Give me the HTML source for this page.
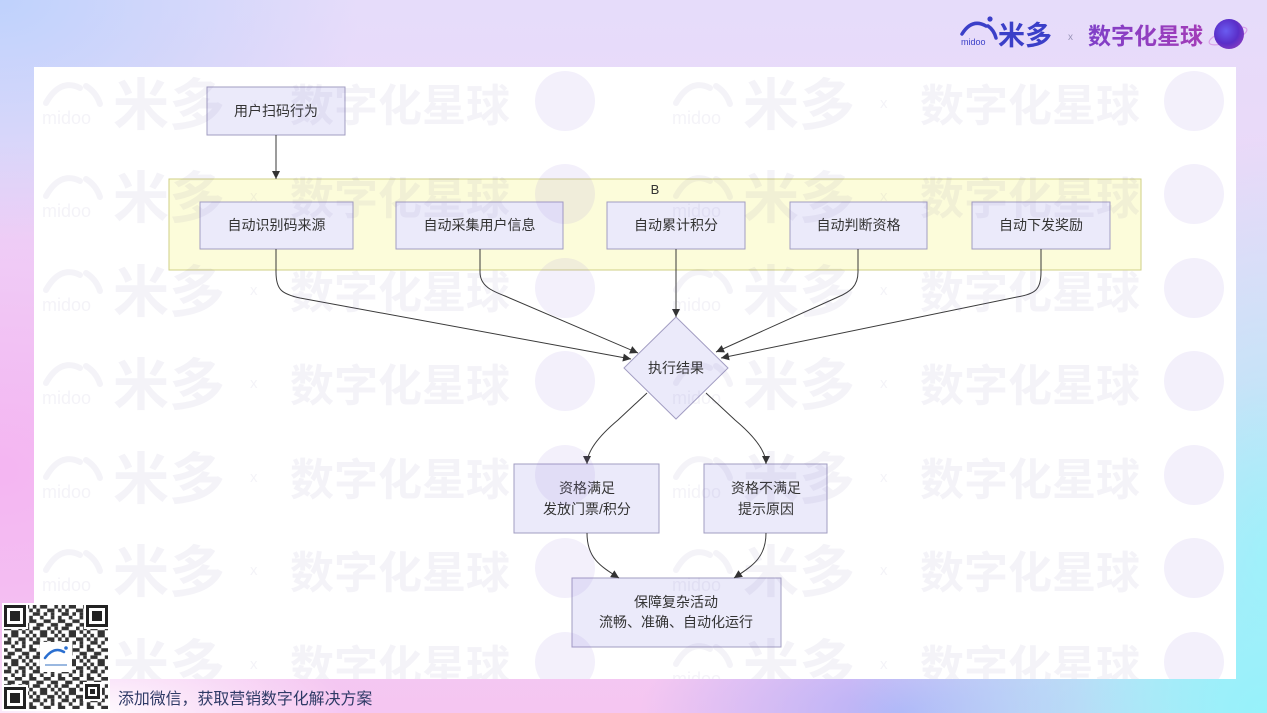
<!DOCTYPE html>
<html><head><meta charset="utf-8">
<style>
html,body{margin:0;padding:0;}
body{width:1267px;height:713px;overflow:hidden;position:relative;font-family:"Liberation Sans","Noto Sans CJK SC",sans-serif;}
#bg{position:absolute;left:0;top:0;width:1267px;height:713px;
background:
 radial-gradient(ellipse 420px 330px at 1267px 713px, rgba(150,242,250,1) 0%, rgba(150,242,250,0) 100%),
 radial-gradient(ellipse 200px 420px at 1267px 560px, rgba(165,240,250,0.95) 0%, rgba(165,240,250,0) 100%),
 radial-gradient(ellipse 360px 240px at 0 0, #bfd2fc 0%, rgba(191,210,252,0) 100%),
 radial-gradient(ellipse 260px 120px at 900px 713px, rgba(176,176,248,0.95) 0%, rgba(176,176,248,0) 100%),
 radial-gradient(ellipse 260px 90px at 90px 713px, rgba(255,255,255,0.95) 0%, rgba(255,255,255,0) 100%),
 radial-gradient(ellipse 420px 340px at 0 470px, rgba(244,180,242,0.95) 0%, rgba(244,180,242,0) 100%),
 linear-gradient(to bottom, #e6dcfa 0%, #eed6f7 45%, #f5c6f1 100%);}
svg{position:absolute;left:0;top:0;}
</style></head>
<body>
<div id="bg"></div>
<svg width="1267" height="713" viewBox="0 0 1267 713" xmlns="http://www.w3.org/2000/svg">
<defs>
<marker id="ah" viewBox="0 0 10 10" refX="10" refY="5" markerUnits="userSpaceOnUse" markerWidth="9" markerHeight="8" orient="auto">
<path d="M0,0 L10,5 L0,10 z" fill="#333"/>
</marker>
<clipPath id="pc"><rect x="34" y="67" width="1202" height="612"/></clipPath>
<pattern id="qr" x="4" y="605" width="28.8" height="28.8" patternUnits="userSpaceOnUse">
<g fill="#333">
<rect x="0" y="0" width="3.6" height="3.6"/><rect x="7.2" y="0" width="7.2" height="3.6"/><rect x="21.6" y="0" width="3.6" height="3.6"/>
<rect x="3.6" y="3.6" width="3.6" height="3.6"/><rect x="14.4" y="3.6" width="7.2" height="3.6"/><rect x="25.2" y="3.6" width="3.6" height="3.6"/>
<rect x="0" y="7.2" width="7.2" height="3.6"/><rect x="10.8" y="7.2" width="3.6" height="3.6"/><rect x="18" y="7.2" width="3.6" height="3.6"/>
<rect x="7.2" y="10.8" width="3.6" height="3.6"/><rect x="18" y="10.8" width="3.6" height="3.6"/><rect x="25.2" y="10.8" width="3.6" height="3.6"/>
<rect x="0" y="14.4" width="3.6" height="3.6"/><rect x="10.8" y="14.4" width="7.2" height="3.6"/><rect x="25.2" y="14.4" width="3.6" height="3.6"/>
<rect x="3.6" y="18" width="7.2" height="3.6"/><rect x="18" y="18" width="7.2" height="3.6"/>
<rect x="0" y="21.6" width="7.2" height="3.6"/><rect x="14.4" y="21.6" width="3.6" height="3.6"/><rect x="21.6" y="21.6" width="3.6" height="3.6"/>
<rect x="7.2" y="25.2" width="7.2" height="3.6"/><rect x="18" y="25.2" width="3.6" height="3.6"/><rect x="25.2" y="25.2" width="3.6" height="3.6"/>
</g>
</pattern>
<radialGradient id="planet" cx="40%" cy="40%" r="70%">
<stop offset="0" stop-color="#6a5cf0"/><stop offset="0.6" stop-color="#5a2ec8"/><stop offset="1" stop-color="#8a3cc0"/>
</radialGradient>
<linearGradient id="ptxt" x1="0" y1="0" x2="1" y2="0">
<stop offset="0" stop-color="#7f3fc8"/><stop offset="1" stop-color="#a23cb8"/>
</linearGradient>
</defs>

<!-- white panel -->
<rect x="34" y="67" width="1202" height="612" fill="#ffffff"/>

<!-- diagram -->
<g font-family="Liberation Sans, Noto Sans CJK SC, sans-serif" font-size="14" fill="#333" text-anchor="middle">
<rect x="169" y="179" width="972" height="91" fill="#fcfcda" stroke="#cfcf86" stroke-width="1"/>
<text x="655" y="194" font-size="13">B</text>

<rect x="207" y="87" width="138" height="48" fill="#ebeafa" stroke="#a29dc2" stroke-width="1"/>
<text x="276" y="116">用户扫码行为</text>

<rect x="200" y="202" width="153" height="47" fill="#ebeafa" stroke="#a29dc2"/>
<text x="276.5" y="230">自动识别码来源</text>
<rect x="396" y="202" width="167" height="47" fill="#ebeafa" stroke="#a29dc2"/>
<text x="479.5" y="230">自动采集用户信息</text>
<rect x="607" y="202" width="138" height="47" fill="#ebeafa" stroke="#a29dc2"/>
<text x="676" y="230">自动累计积分</text>
<rect x="790" y="202" width="137" height="47" fill="#ebeafa" stroke="#a29dc2"/>
<text x="858.5" y="230">自动判断资格</text>
<rect x="972" y="202" width="138" height="47" fill="#ebeafa" stroke="#a29dc2"/>
<text x="1041" y="230">自动下发奖励</text>

<polygon points="676,317 728,368 676,419 624,368" fill="#ebeafa" stroke="#a29dc2"/>
<text x="676" y="373">执行结果</text>

<rect x="514" y="464" width="145" height="69" fill="#ebeafa" stroke="#a29dc2"/>
<text x="587" y="493">资格满足</text>
<text x="587" y="514">发放门票/积分</text>
<rect x="704" y="464" width="123" height="69" fill="#ebeafa" stroke="#a29dc2"/>
<text x="766" y="493">资格不满足</text>
<text x="766" y="514">提示原因</text>

<rect x="572" y="578" width="209" height="69" fill="#ebeafa" stroke="#a29dc2"/>
<text x="676" y="607">保障复杂活动</text>
<text x="676" y="627">流畅、准确、自动化运行</text>
</g>

<!-- edges -->
<g fill="none" stroke="#3a3a3a" stroke-width="1" marker-end="url(#ah)">
<path d="M276,135 L276,179"/>
<path d="M276,249 L276,272 C276,290 282,294 300,298 L631,359"/>
<path d="M480,249 L480,272 C480,286 492,291 505,296 L638,353"/>
<path d="M676,249 L676,317"/>
<path d="M858,249 L858,272 C858,286 850,292 838,297 L716,352"/>
<path d="M1041,249 L1041,272 C1041,290 1035,294 1017,297 L721,358"/>
<path d="M647,393 L618,420 Q587,446 587,464"/>
<path d="M706,393 L735,420 Q766,446 766,464"/>
<path d="M587,533 C587,558 600,566 619,578"/>
<path d="M766,533 C766,558 752,566 734,578"/>
</g>

<!-- watermark -->
<g clip-path="url(#pc)" font-family="Liberation Sans, Noto Sans CJK SC, sans-serif" font-weight="bold">
<g fill="rgba(110,100,160,0.08)">
<text x="113" y="125" font-size="56">米多</text><text x="290" y="121" font-size="44">数字化星球</text><text x="250" y="108" font-size="15" font-weight="normal">x</text>
<text x="113" y="218" font-size="56">米多</text><text x="290" y="214" font-size="44">数字化星球</text><text x="250" y="201" font-size="15" font-weight="normal">x</text>
<text x="113" y="312" font-size="56">米多</text><text x="290" y="308" font-size="44">数字化星球</text><text x="250" y="295" font-size="15" font-weight="normal">x</text>
<text x="113" y="405" font-size="56">米多</text><text x="290" y="401" font-size="44">数字化星球</text><text x="250" y="388" font-size="15" font-weight="normal">x</text>
<text x="113" y="499" font-size="56">米多</text><text x="290" y="495" font-size="44">数字化星球</text><text x="250" y="482" font-size="15" font-weight="normal">x</text>
<text x="113" y="592" font-size="56">米多</text><text x="290" y="588" font-size="44">数字化星球</text><text x="250" y="575" font-size="15" font-weight="normal">x</text>
<text x="113" y="686" font-size="56">米多</text><text x="290" y="682" font-size="44">数字化星球</text><text x="250" y="669" font-size="15" font-weight="normal">x</text>
<text x="743" y="125" font-size="56">米多</text><text x="920" y="121" font-size="44">数字化星球</text><text x="880" y="108" font-size="15" font-weight="normal">x</text>
<text x="743" y="218" font-size="56">米多</text><text x="920" y="214" font-size="44">数字化星球</text><text x="880" y="201" font-size="15" font-weight="normal">x</text>
<text x="743" y="312" font-size="56">米多</text><text x="920" y="308" font-size="44">数字化星球</text><text x="880" y="295" font-size="15" font-weight="normal">x</text>
<text x="743" y="405" font-size="56">米多</text><text x="920" y="401" font-size="44">数字化星球</text><text x="880" y="388" font-size="15" font-weight="normal">x</text>
<text x="743" y="499" font-size="56">米多</text><text x="920" y="495" font-size="44">数字化星球</text><text x="880" y="482" font-size="15" font-weight="normal">x</text>
<text x="743" y="592" font-size="56">米多</text><text x="920" y="588" font-size="44">数字化星球</text><text x="880" y="575" font-size="15" font-weight="normal">x</text>
<text x="743" y="686" font-size="56">米多</text><text x="920" y="682" font-size="44">数字化星球</text><text x="880" y="669" font-size="15" font-weight="normal">x</text>
<g font-size="18" font-weight="normal">
<text x="42" y="124">midoo</text><text x="42" y="217">midoo</text><text x="42" y="311">midoo</text><text x="42" y="404">midoo</text><text x="42" y="498">midoo</text><text x="42" y="591">midoo</text><text x="42" y="685">midoo</text>
<text x="672" y="124">midoo</text><text x="672" y="217">midoo</text><text x="672" y="311">midoo</text><text x="672" y="404">midoo</text><text x="672" y="498">midoo</text><text x="672" y="591">midoo</text><text x="672" y="685">midoo</text>
</g>
</g>
<g fill="none" stroke="rgba(110,100,160,0.08)" stroke-width="6" stroke-linecap="round">
<path d="M46,103 Q60,78 80,88 M86,86 Q96,92 100,104"/>
<path d="M46,196 Q60,171 80,181 M86,179 Q96,185 100,197"/>
<path d="M46,290 Q60,265 80,275 M86,273 Q96,279 100,291"/>
<path d="M46,383 Q60,358 80,368 M86,366 Q96,372 100,384"/>
<path d="M46,477 Q60,452 80,462 M86,460 Q96,466 100,478"/>
<path d="M46,570 Q60,545 80,555 M86,553 Q96,559 100,571"/>
<path d="M46,664 Q60,639 80,649 M86,647 Q96,653 100,665"/>
<path d="M676,103 Q690,78 710,88 M716,86 Q726,92 730,104"/>
<path d="M676,196 Q690,171 710,181 M716,179 Q726,185 730,197"/>
<path d="M676,290 Q690,265 710,275 M716,273 Q726,279 730,291"/>
<path d="M676,383 Q690,358 710,368 M716,366 Q726,372 730,384"/>
<path d="M676,477 Q690,452 710,462 M716,460 Q726,466 730,478"/>
<path d="M676,570 Q690,545 710,555 M716,553 Q726,559 730,571"/>
<path d="M676,664 Q690,639 710,649 M716,647 Q726,653 730,665"/>
</g>
<g fill="rgba(150,115,220,0.11)">
<circle cx="565" cy="101" r="30"/><circle cx="565" cy="194" r="30"/><circle cx="565" cy="288" r="30"/><circle cx="565" cy="381" r="30"/><circle cx="565" cy="475" r="30"/><circle cx="565" cy="568" r="30"/><circle cx="565" cy="662" r="30"/>
<circle cx="1194" cy="101" r="30"/><circle cx="1194" cy="194" r="30"/><circle cx="1194" cy="288" r="30"/><circle cx="1194" cy="381" r="30"/><circle cx="1194" cy="475" r="30"/><circle cx="1194" cy="568" r="30"/><circle cx="1194" cy="662" r="30"/>
</g>
</g>

<!-- header logo -->
<g>
<path d="M962,34 Q972,18 986,26" fill="none" stroke="#3b3fc8" stroke-width="3.5" stroke-linecap="round"/>
<path d="M988,26 Q994,30 996,38" fill="none" stroke="#3b3fc8" stroke-width="3.5" stroke-linecap="round"/>
<circle cx="990" cy="19" r="2.6" fill="#3b3fc8"/>
<text x="961" y="45" font-family="Liberation Sans, sans-serif" font-size="9" fill="#3b3fc8">midoo</text>
<text x="998" y="45" font-family="Liberation Sans, Noto Sans CJK SC, sans-serif" font-size="27" font-weight="bold" fill="#3b3fc8">米多</text>
<text x="1068" y="40" font-family="Liberation Sans, sans-serif" font-size="10" fill="#9a94b8">x</text>
<text x="1088" y="44" font-family="Liberation Sans, Noto Sans CJK SC, sans-serif" font-size="23" font-weight="bold" fill="url(#ptxt)">数字化星球</text>
<ellipse cx="1228" cy="36" rx="20" ry="6" fill="none" stroke="#d9a0e8" stroke-width="1.2" transform="rotate(-20 1228 36)"/>
<circle cx="1229" cy="34" r="15" fill="url(#planet)"/>
</g>

<!-- QR code -->
<g>
<rect x="2" y="603" width="108" height="108" fill="#ffffff"/>
<rect x="4" y="605" width="104" height="104" fill="url(#qr)"/>
<g>
<rect x="3" y="604" width="25" height="25" fill="#fff"/>
<rect x="4" y="605" width="22" height="22" fill="#222"/><rect x="7" y="608" width="16" height="16" fill="#fff"/><rect x="10" y="611" width="10" height="10" fill="#222"/>
<rect x="84" y="604" width="25" height="25" fill="#fff"/>
<rect x="86" y="605" width="22" height="22" fill="#222"/><rect x="89" y="608" width="16" height="16" fill="#fff"/><rect x="92" y="611" width="10" height="10" fill="#222"/>
<rect x="3" y="685" width="25" height="25" fill="#fff"/>
<rect x="4" y="687" width="22" height="22" fill="#222"/><rect x="7" y="690" width="16" height="16" fill="#fff"/><rect x="10" y="693" width="10" height="10" fill="#222"/>
<rect x="83" y="682" width="19" height="19" fill="#fff"/>
<rect x="85" y="684" width="15" height="15" fill="#222"/><rect x="88" y="687" width="9" height="9" fill="#fff"/><rect x="90" y="689" width="5" height="5" fill="#222"/>
</g>
<rect x="40" y="642" width="32" height="30" fill="#fff"/>
<path d="M45,658 Q54,646 64,652" fill="none" stroke="#2a6fd0" stroke-width="2.5" stroke-linecap="round"/>
<circle cx="66" cy="648" r="1.8" fill="#2a6fd0"/>
<rect x="45" y="664" width="22" height="2" fill="#9ab8e0"/>
</g>
<text x="118" y="704" font-family="Liberation Sans, Noto Sans CJK SC, sans-serif" font-size="15.9" fill="#2f3a66">添加微信，获取营销数字化解决方案</text>
</svg>
</body></html>
